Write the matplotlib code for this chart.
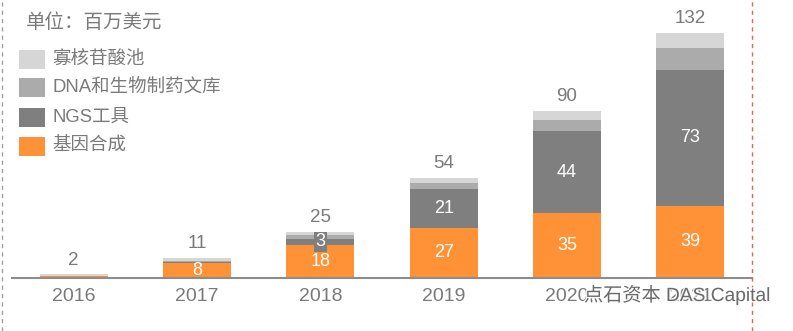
import matplotlib.pyplot as plt
import matplotlib.patheffects as pe
from matplotlib.patches import Rectangle
from matplotlib.lines import Line2D

plt.rcParams['font.family'] = ['Liberation Sans', 'Noto Sans CJK SC', 'DejaVu Sans']

# data (百万美元)
years = ["2016", "2017", "2018", "2019", "2020", "2021"]
gene_synthesis = [1.1, 8, 18, 27, 35, 39]
ngs_tools = [0.1, 0.5, 3, 21, 44, 73]
dna_libraries = [0.1, 0.5, 2, 3, 6, 12]
oligo_pools = [0.7, 2, 2, 3, 5, 8]
totals = [2, 11, 25, 54, 90, 132]

series_names = ["基因合成", "NGS工具", "DNA和生物制药文库", "寡核苷酸池"]
series_values = [gene_synthesis, ngs_tools, dna_libraries, oligo_pools]
series_colors = ["#FF9136", "#7F7F7F", "#ABABAB", "#D6D6D6"]
# which segments get an inner label
inner_labels = [[None, 8, 18, 27, 35, 39], [None, None, 3, 21, 44, 73], None, None]

W, H = 793, 331
fig = plt.figure(figsize=(W / 100, H / 100), dpi=100)
ax = fig.add_axes([12 / W, (H - 278) / H, 740 / W, 278 / H])

text_gray = "#7A7A7A"
x = range(len(years))
bottom = [0] * len(years)
for name, vals, col, labs in zip(series_names, series_values, series_colors, inner_labels):
    ax.bar(x, vals, width=0.55, bottom=bottom, color=col, label=name)
    if labs is not None:
        for i, lab in enumerate(labs):
            if lab is None:
                continue
            yc = bottom[i] + vals[i] / 2
            kw = {}
            if vals[i] < 5:
                kw["bbox"] = dict(boxstyle="square,pad=0.1", fc=col, ec="none")
            ax.text(i, yc, str(lab), ha="center", va="center", color="white",
                    fontsize=13, **kw)
    bottom = [b + v for b, v in zip(bottom, vals)]

for i, t in enumerate(totals):
    ax.annotate(str(t), (i, bottom[i]), xytext=(0, 4), textcoords="offset points",
                ha="center", va="bottom", color=text_gray, fontsize=13.5)

ax.set_xlim(-0.5, 5.5)
ax.set_ylim(0, 149.8)
ax.set_xticks(list(x))
ax.set_xticklabels(years, fontsize=14, color=text_gray)
ax.tick_params(axis="x", length=0, pad=7)
ax.set_yticks([])
for s in ["top", "right", "left"]:
    ax.spines[s].set_visible(False)
ax.spines["bottom"].set_color("#8C8C8C")
ax.spines["bottom"].set_linewidth(1.5)

# unit label
fig.text(26 / W, 1 - 23 / H, "单位：百万美元", fontsize=14, color=text_gray,
         ha="left", va="center")

# legend drawn manually, top entry is the last series
for k, (name, col) in enumerate(zip(series_names[::-1], series_colors[::-1])):
    yc = 59 + 29 * k
    fig.patches.append(Rectangle((19 / W, 1 - (yc + 9.5) / H), 26 / W, 19 / H,
                                 transform=fig.transFigure, fc=col, ec="none"))
    fig.text(52 / W, 1 - yc / H, name, fontsize=13.3, color=text_gray,
             ha="left", va="center")

# frame borders
fig.lines.append(Line2D([2 / W, 2 / W], [0, 1], transform=fig.transFigure,
                        color="#A0A0A0", lw=1, ls=(0, (3, 3))))
fig.lines.append(Line2D([752 / W, 752 / W], [0, 1], transform=fig.transFigure,
                        color="#E0694A", lw=1, ls=(0, (3, 3))))

# watermark
fig.text(584 / W, 1 - 295 / H, "点石资本 DAS Capital", fontsize=13.8, color="#555555",
         ha="left", va="center", alpha=0.85,
         path_effects=[pe.withStroke(linewidth=2, foreground="white")])

fig.savefig("out.png", dpi=100)
